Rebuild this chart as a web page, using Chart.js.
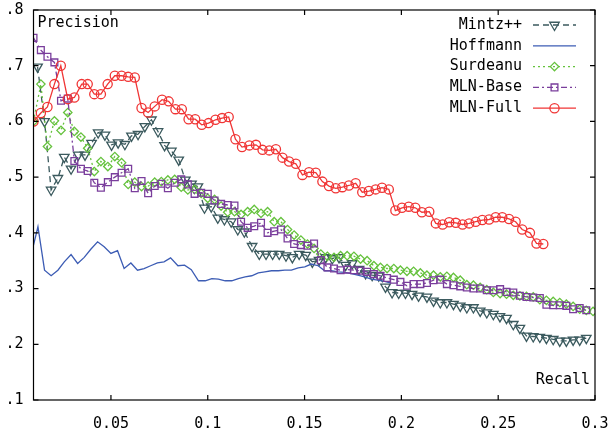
<!DOCTYPE html>
<html>
<head>
<meta charset="utf-8">
<script src="https://cdn.jsdelivr.net/npm/chart.js"></script>
<style>
  html, body { margin: 0; padding: 0; background: #fff; }
  #wrap { width: 615px; height: 433px; position: relative; }
</style>
</head>
<body>
<div id="wrap"><canvas id="pr"></canvas></div>
<script>
// Recall / precision values
const mintzRecall = [0.0121,0.0157,0.0191,0.0226,0.0259,0.0294,0.0331,0.0366,0.0400,0.0434,
  0.0469,0.0503,0.0537,0.0572,0.0606,0.0640,0.0675,0.0709,0.0743,0.0777,
  0.0812,0.0850,0.0884,0.0916,0.0949,0.0983,0.1018,0.1052,0.1086,0.1121,
  0.1155,0.1189,0.1229,0.1266,0.1301,0.1335,0.1369,0.1404,0.1437,0.1472,
  0.1506,0.1540,0.1575,0.1609,0.1643,0.1678,0.1712,0.1746,0.1781,0.1815,
  0.1849,0.1883,0.1918,0.1952,0.1986,0.2021,0.2055,0.2089,0.2132,0.2166,
  0.2201,0.2235,0.2269,0.2304,0.2338,0.2372,0.2407,0.2441,0.2475,0.2509,
  0.2543,0.2578,0.2612,0.2646,0.2681,0.2715,0.2749,0.2784,0.2818,0.2852,
  0.2887,0.2921,0.2955];
const mintzPrecision = [0.698,0.600,0.477,0.498,0.536,0.515,0.540,0.540,0.561,0.580,
  0.576,0.558,0.562,0.559,0.574,0.577,0.591,0.603,0.582,0.557,
  0.547,0.531,0.495,0.488,0.483,0.445,0.447,0.427,0.424,0.420,
  0.406,0.402,0.376,0.362,0.362,0.362,0.362,0.359,0.356,0.362,
  0.360,0.348,0.351,0.356,0.354,0.356,0.342,0.345,0.335,0.327,
  0.324,0.323,0.303,0.293,0.292,0.292,0.290,0.287,0.285,0.278,
  0.275,0.275,0.272,0.269,0.266,0.266,0.260,0.257,0.254,0.250,
  0.247,0.236,0.229,0.215,0.214,0.213,0.211,0.209,0.206,0.206,
  0.208,0.208,0.211];

const hoffmannRecall = [0.0100,0.0123,0.0157,0.0191,0.0226,0.0259,0.0294,0.0328,0.0362,0.0397,
  0.0431,0.0465,0.0500,0.0534,0.0568,0.0603,0.0637,0.0671,0.0705,0.0740,
  0.0774,0.0808,0.0846,0.0880,0.0915,0.0952,0.0987,0.1021,0.1055,0.1090,
  0.1124,0.1158,0.1193,0.1227,0.1261,0.1295,0.1329,0.1364,0.1398,0.1432,
  0.1467,0.1501,0.1535,0.1570,0.1604,0.1638,0.1673,0.1707,0.1741,0.1775,
  0.1810,0.1844,0.1878,0.1913,0.1947];
const hoffmannPrecision = [0.378,0.411,0.333,0.323,0.333,0.348,0.361,0.345,0.356,0.371,
  0.384,0.375,0.363,0.368,0.336,0.346,0.333,0.336,0.341,0.346,
  0.348,0.355,0.341,0.342,0.334,0.314,0.314,0.318,0.317,0.314,
  0.314,0.318,0.321,0.323,0.328,0.330,0.332,0.332,0.333,0.333,
  0.337,0.339,0.344,0.341,0.332,0.332,0.330,0.329,0.327,0.324,
  0.321,0.317,0.315,0.313,0.310];

// shared recall steps for Surdeanu and MLN-Base
const stepRecall = [0.0100,0.0138,0.0172,0.0208,0.0242,0.0277,0.0311,0.0345,0.0380,0.0414,
  0.0448,0.0484,0.0520,0.0555,0.0589,0.0623,0.0658,0.0692,0.0726,0.0760,
  0.0794,0.0829,0.0863,0.0897,0.0932,0.0966,0.1000,0.1035,0.1069,0.1103,
  0.1138,0.1172,0.1206,0.1240,0.1275,0.1309,0.1343,0.1378,0.1412,0.1446,
  0.1481,0.1515,0.1549,0.1584,0.1618,0.1652,0.1686,0.1720,0.1755,0.1789,
  0.1823,0.1858,0.1892,0.1926,0.1961,0.1995,0.2029,0.2063,0.2098,0.2132,
  0.2166,0.2201,0.2235,0.2269,0.2304,0.2338,0.2372,0.2407,0.2441,0.2475,
  0.2510,0.2543,0.2578,0.2612,0.2646,0.2681,0.2715,0.2749,0.2784,0.2818,
  0.2852,0.2887,0.2921,0.2955,0.2990];
const surdeanuPrecision = [0.600,0.667,0.555,0.601,0.584,0.616,0.582,0.572,0.552,0.510,
  0.528,0.519,0.537,0.526,0.487,0.491,0.483,0.484,0.491,0.492,
  0.495,0.496,0.482,0.477,0.478,0.471,0.462,0.460,0.448,0.437,
  0.438,0.433,0.438,0.442,0.435,0.438,0.420,0.420,0.406,0.396,
  0.387,0.380,0.372,0.362,0.358,0.356,0.359,0.359,0.358,0.353,
  0.350,0.341,0.338,0.336,0.336,0.333,0.331,0.331,0.328,0.324,
  0.324,0.321,0.322,0.320,0.315,0.307,0.306,0.302,0.298,0.293,
  0.291,0.290,0.288,0.287,0.286,0.285,0.280,0.279,0.277,0.275,
  0.272,0.268,0.263,0.261,0.259];
const mlnBasePrecision = [0.750,0.728,0.716,0.706,0.637,0.641,0.529,0.515,0.511,0.490,
  0.481,0.491,0.500,0.508,0.515,0.480,0.493,0.471,0.484,0.488,
  0.480,0.490,0.496,0.487,0.470,0.472,0.470,0.458,0.452,0.450,
  0.449,0.420,0.409,0.412,0.418,0.400,0.403,0.406,0.390,0.380,
  0.378,0.377,0.381,0.351,0.338,0.336,0.333,0.334,0.333,0.332,
  0.330,0.326,0.323,0.319,0.316,0.312,0.305,0.308,0.308,0.310,
  0.315,0.316,0.308,0.306,0.304,0.302,0.300,0.300,0.297,0.297,
  0.299,0.294,0.293,0.287,0.285,0.284,0.283,0.271,0.270,0.270,
  0.269,0.263,0.265,0.261];

const mlnFullRecall = [0.0100,0.0138,0.0172,0.0208,0.0241,0.0277,0.0311,0.0349,0.0380,0.0414,
  0.0448,0.0483,0.0520,0.0555,0.0589,0.0623,0.0658,0.0692,0.0726,0.0764,
  0.0798,0.0833,0.0866,0.0901,0.0935,0.0969,0.1004,0.1040,0.1074,0.1108,
  0.1143,0.1177,0.1215,0.1249,0.1283,0.1318,0.1352,0.1386,0.1420,0.1455,
  0.1489,0.1523,0.1558,0.1592,0.1626,0.1661,0.1695,0.1729,0.1764,0.1798,
  0.1832,0.1867,0.1900,0.1935,0.1969,0.2003,0.2038,0.2072,0.2106,0.2144,
  0.2178,0.2213,0.2247,0.2281,0.2316,0.2350,0.2384,0.2418,0.2453,0.2487,
  0.2521,0.2556,0.2590,0.2624,0.2664,0.2698,0.2733];
const mlnFullPrecision = [0.600,0.615,0.626,0.667,0.700,0.640,0.643,0.667,0.667,0.649,
  0.649,0.667,0.682,0.682,0.680,0.679,0.624,0.616,0.627,0.639,
  0.636,0.622,0.622,0.604,0.604,0.594,0.597,0.603,0.606,0.608,
  0.568,0.554,0.557,0.558,0.549,0.548,0.550,0.535,0.528,0.524,
  0.504,0.509,0.508,0.492,0.484,0.480,0.482,0.485,0.489,0.473,
  0.475,0.478,0.481,0.478,0.440,0.445,0.447,0.445,0.437,0.438,
  0.417,0.415,0.419,0.418,0.415,0.417,0.420,0.423,0.424,0.428,
  0.428,0.425,0.420,0.406,0.400,0.381,0.380];

const xTicks = [0.05, 0.1, 0.15, 0.2, 0.25, 0.3];
const xTickLabels = ["0.05", "0.1", "0.15", "0.2", "0.25", "0.3"];
const yTicks = [0.1, 0.2, 0.3, 0.4, 0.5, 0.6, 0.7, 0.8];
const yTickLabels = [".1", ".2", ".3", ".4", ".5", ".6", ".7", ".8"];

const FONT = "'DejaVu Sans Mono', 'Liberation Mono', monospace";

function pairs(xs, ys) {
  return ys.map((y, i) => ({ x: xs[i], y: y }));
}

// series in legend order
const series = [
  { label: "Mintz++", data: pairs(mintzRecall, mintzPrecision), borderColor: "#3b5a5e",
    borderDash: [6, 4], pointStyle: "triangle", rotation: 180, pointRadius: 5.5 },
  { label: "Hoffmann", data: pairs(hoffmannRecall, hoffmannPrecision), borderColor: "#3c5cb4",
    borderDash: [], pointStyle: false, pointRadius: 0 },
  { label: "Surdeanu", data: pairs(stepRecall, surdeanuPrecision), borderColor: "#66c23e",
    borderDash: [2, 3], pointStyle: "rectRot", rotation: 0, pointRadius: 4.2 },
  { label: "MLN-Base", data: pairs(stepRecall, mlnBasePrecision), borderColor: "#7a3e9c",
    borderDash: [6, 3, 2, 3], pointStyle: "rect", rotation: 0, pointRadius: 4.8 },
  { label: "MLN-Full", data: pairs(mlnFullRecall, mlnFullPrecision), borderColor: "#f03535",
    borderDash: [], pointStyle: "circle", rotation: 0, pointRadius: 4.6 }
];

const datasets = series.map(s => ({
  label: s.label,
  data: s.data,
  borderColor: s.borderColor,
  borderWidth: 1.3,
  borderDash: s.borderDash,
  tension: 0,
  fill: false,
  pointStyle: s.pointStyle,
  pointRotation: s.rotation,
  pointRadius: s.pointRadius,
  pointBorderColor: s.borderColor,
  pointBackgroundColor: "rgba(0,0,0,0)",
  pointBorderWidth: 1.3
})).reverse(); // last series drawn on top

// frame, inward ticks, axis captions and key in gnuplot style
const gnuplotFrame = {
  id: "gnuplotFrame",
  afterDraw(chart) {
    const ctx = chart.ctx;
    const a = chart.chartArea;
    const xs = chart.scales.x, ys = chart.scales.y;
    const tl = 5;
    ctx.save();
    ctx.strokeStyle = "#000";
    ctx.lineWidth = 1.2;
    ctx.setLineDash([]);
    ctx.strokeRect(a.left, a.top, a.right - a.left, a.bottom - a.top);
    ctx.beginPath();
    yTicks.forEach(v => {
      const py = ys.getPixelForValue(v);
      ctx.moveTo(a.left, py); ctx.lineTo(a.left + tl, py);
      ctx.moveTo(a.right, py); ctx.lineTo(a.right - tl, py);
    });
    xTicks.forEach(v => {
      const px = xs.getPixelForValue(v);
      ctx.moveTo(px, a.bottom); ctx.lineTo(px, a.bottom - tl);
      ctx.moveTo(px, a.top); ctx.lineTo(px, a.top + tl);
    });
    ctx.stroke();

    ctx.fillStyle = "#000";
    ctx.font = "15px " + FONT;
    ctx.textBaseline = "middle";
    ctx.textAlign = "left";
    ctx.fillText("Precision", a.left + 4, 23);
    ctx.textAlign = "right";
    ctx.fillText("Recall", a.right - 5, 380);

    // key
    const textRight = 522, x0 = 533, x1 = 576;
    series.forEach((s, i) => {
      const y = 25 + i * 20.8;
      ctx.fillStyle = "#000";
      ctx.textAlign = "right";
      ctx.fillText(s.label, textRight, y);
      ctx.strokeStyle = s.borderColor;
      ctx.lineWidth = 1.3;
      ctx.setLineDash(s.borderDash);
      ctx.beginPath();
      ctx.moveTo(x0, y); ctx.lineTo(x1, y);
      ctx.stroke();
      ctx.setLineDash([]);
      if (s.pointStyle && Chart.helpers && Chart.helpers.drawPoint) {
        ctx.fillStyle = "rgba(0,0,0,0)";
        Chart.helpers.drawPoint(ctx, {
          pointStyle: s.pointStyle, rotation: s.rotation,
          radius: s.pointRadius, borderWidth: 1.3
        }, (x0 + x1) / 2, y);
      }
    });
    ctx.restore();
  }
};

new Chart(document.getElementById("pr"), {
  type: "line",
  data: { datasets: datasets },
  plugins: [gnuplotFrame],
  options: {
    responsive: true,
    maintainAspectRatio: false,
    animation: false,
    layout: { padding: { left: 0, right: 20, top: 10, bottom: 0 } },
    plugins: { legend: { display: false }, tooltip: { enabled: false } },
    scales: {
      x: {
        type: "linear",
        min: 0.01,
        max: 0.3,
        afterFit: s => {
          s.height = 33;
          s.paddingLeft = 0; s.paddingRight = 0;
        },
        afterBuildTicks: s => { s.ticks = xTicks.map(v => ({ value: v })); },
        grid: { display: false, drawTicks: false },
        border: { display: false },
        ticks: {
          padding: 15,
          color: "#000",
          font: { family: FONT, size: 15 },
          maxRotation: 0,
          callback: v => xTickLabels[xTicks.indexOf(v)]
        }
      },
      y: {
        type: "linear",
        min: 0.1,
        max: 0.8,
        afterFit: s => {
          s.width = 33.5;
          s.paddingTop = 0; s.paddingBottom = 0;
        },
        afterBuildTicks: s => { s.ticks = yTicks.map(v => ({ value: v })); },
        grid: { display: false, drawTicks: false },
        border: { display: false },
        ticks: {
          padding: 10,
          color: "#000",
          font: { family: FONT, size: 15 },
          callback: v => yTickLabels[yTicks.indexOf(v)]
        }
      }
    }
  }
});
</script>
</body>
</html>
